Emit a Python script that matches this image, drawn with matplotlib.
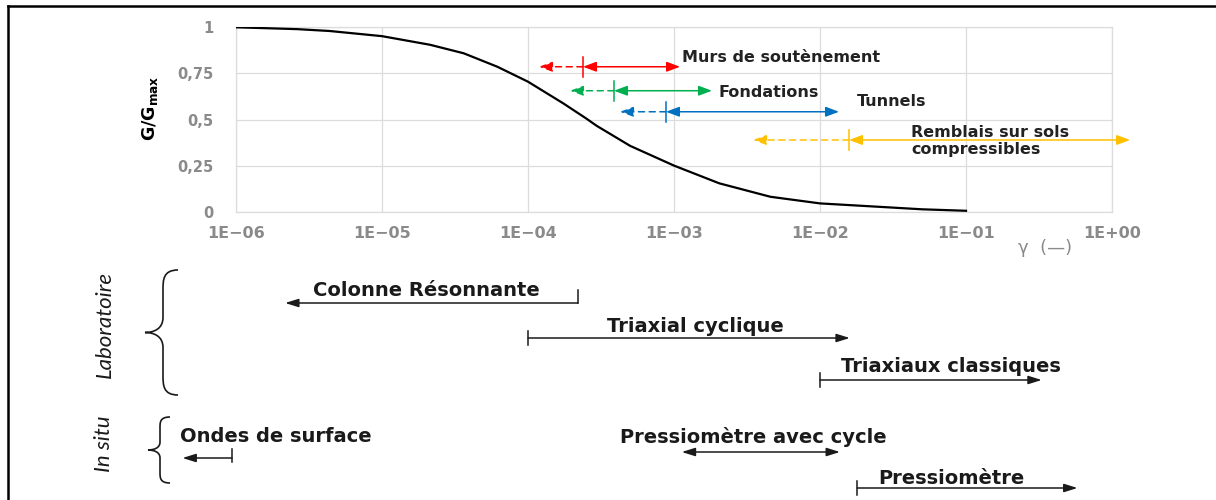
"""G/Gmax reduction curve with the strain ranges of works and of tests."""

import matplotlib
matplotlib.use('Agg')
from matplotlib import pyplot, transforms
from matplotlib.lines import Line2D
from matplotlib.patches import PathPatch
from matplotlib.path import Path


# Reduction curve.
gamma = [1e-6, 2.63e-6, 4.37e-6, 1e-5, 2.14e-5, 3.63e-5, 6.17e-5, 1e-4,
         1.74e-4, 2.51e-4, 2.95e-4, 5.01e-4, 1e-3, 2.04e-3, 4.57e-3, 1e-2,
         2.88e-2, 5e-2, 1e-1]
g_ratio = [1.0, 0.99, 0.98, 0.952, 0.905, 0.859, 0.786, 0.705,
           0.588, 0.505, 0.466, 0.357, 0.25, 0.154, 0.081, 0.045,
           0.024, 0.013, 0.005]

# Strain ranges of the works (dashed part from low to mid).
works = ['Murs de soutènement', 'Fondations', 'Tunnels',
         'Remblais sur sols\ncompressibles']
work_low = [1.19e-4, 1.94e-4, 4.27e-4, 3.48e-3]
work_mid = [2.38e-4, 3.88e-4, 8.81e-4, 1.58e-2]
work_high = [1.10e-3, 1.82e-3, 1.35e-2, 1.33]
work_level = [0.786, 0.656, 0.542, 0.389]
work_label_x = [1.135e-3, 2.03e-3, 1.79e-2, 4.2e-2]
work_label_y = [0.834, 0.645, 0.597, 0.383]
work_colors = ['#ff0000', '#00b050', '#0070c0', '#ffc000']

# Strain ranges of the tests.
tests = ['Colonne Résonnante', 'Triaxial cyclique', 'Triaxiaux classiques',
         'Ondes de surface', 'Pressiomètre avec cycle', 'Pressiomètre']
test_low = [2.17e-6, 1e-4, 1e-2, 4.3e-7, 1.13e-3, 1.8e-2]
test_high = [2.2e-4, 1.6e-2, 0.33, 9.4e-7, 1.37e-2, 0.58]
test_kind = ['left', 'right', 'right', 'left', 'both', 'right']
test_label_x = [3.37e-6, 3.48e-4, 1.39e-2, 4.13e-7, 4.27e-4, 2.49e-2]

xtick_values = [1e-6, 1e-5, 1e-4, 1e-3, 1e-2, 1e-1, 1e0]
xtick_labels = ['1E\u221206', '1E\u221205', '1E\u221204', '1E\u221203',
                '1E\u221202', '1E\u221201', '1E+00']
ytick_values = [0, 0.25, 0.5, 0.75, 1]
ytick_labels = ['0', '0,25', '0,5', '0,75', '1']

# Vertical positions (pixels from the top) of the test rows.
row_y = [303, 338, 380, 458, 452, 488]
row_label_y = [290, 326, 367, 437, 437, 478]

W, H = 1216, 500


def fx(x):
    return x / W


def fy(y):
    return 1 - y / H


pyplot.rc('font', family='DejaVu Sans')
fig = pyplot.figure(figsize=(W / 100, H / 100), dpi=100)
ax = fig.add_axes([fx(236), fy(211.7), fx(1112) - fx(236), fy(27.3) - fy(211.7)])

ax.plot(gamma, g_ratio, color='black', lw=1.6, zorder=3)
ax.set_xscale('log')
ax.set_xlim(1e-6, 1)
ax.set_ylim(0, 1)
ax.set_xticks(xtick_values, xtick_labels)
ax.set_yticks(ytick_values, ytick_labels)
ax.minorticks_off()
ax.tick_params(length=0, colors='#8a8a8a', labelsize=10.5)
ax.tick_params(axis='x', pad=10, labelsize=11.5)
ax.tick_params(axis='y', pad=16)
for lab in ax.get_xticklabels() + ax.get_yticklabels():
    lab.set_fontweight('bold')
ax.grid(color='#dcdcdc', lw=0.9)
for sp in ax.spines.values():
    sp.set_color('#dcdcdc')
    sp.set_linewidth(0.9)

fig.text(fx(150), fy(108), r'G/G$_{\mathregular{max}}$', rotation=90,
         ha='center', va='center', fontsize=12.5, fontweight='bold')
fig.text(fx(1045), fy(248), '\u03b3  (\u2014)', ha='center', va='center',
         fontsize=13, color='#8a8a8a')

# Works: dashed extension, split mark, solid range.
for name, lo, mid, hi, lev, lx, ly, c in zip(
        works, work_low, work_mid, work_high, work_level,
        work_label_x, work_label_y, work_colors):
    head = '-|>,head_length=0.8,head_width=0.3'
    ax.annotate('', xy=(lo, lev), xytext=(mid, lev),
                arrowprops=dict(arrowstyle=head, color=c, lw=1.1,
                                linestyle=(0, (4, 3)), shrinkA=0, shrinkB=0,
                                mutation_scale=10))
    ax.annotate('', xy=(hi, lev), xytext=(mid, lev), annotation_clip=False,
                arrowprops=dict(arrowstyle='<|-|>,head_length=0.8,head_width=0.3',
                                color=c, lw=1.1, shrinkA=0, shrinkB=0,
                                mutation_scale=10))
    ax.plot([mid, mid], [lev - 0.055, lev + 0.055], color=c, lw=1.1)
    ax.text(lx, ly, name, ha='left', va='center', fontsize=11.5,
            fontweight='bold', color='#222222', linespacing=1.1)

# Tests, drawn on the same strain scale below the axes.
trans = transforms.blended_transform_factory(ax.transData, fig.transFigure)
for name, lo, hi, kind, yr, yl, lx in zip(tests, test_low, test_high,
                                          test_kind, row_y, row_label_y,
                                          test_label_x):
    y = fy(yr)
    if kind == 'left':
        style, start, end = '-|>', (hi, y), (lo, y)
    elif kind == 'right':
        style, start, end = '-|>', (lo, y), (hi, y)
    else:
        style, start, end = '<|-|>', (lo, y), (hi, y)
    ax.annotate('', xy=end, xycoords=trans, xytext=start, textcoords=trans,
                annotation_clip=False,
                arrowprops=dict(arrowstyle=style + ',head_length=0.8,head_width=0.25',
                                color='#1a1a1a', lw=1.1, shrinkA=0, shrinkB=0,
                                mutation_scale=10))
    if name == 'Colonne Résonnante':
        ax.plot([hi, hi], [fy(yr), fy(yr - 13)], transform=trans,
                color='#1a1a1a', lw=1.1, clip_on=False)
    elif name == 'Ondes de surface':
        ax.plot([hi, hi], [fy(yr + 4), fy(yr - 9)], transform=trans,
                color='#1a1a1a', lw=1.1, clip_on=False)
    elif kind == 'right':
        ax.plot([lo, lo], [fy(yr + 7), fy(yr - 7)], transform=trans,
                color='#1a1a1a', lw=1.1, clip_on=False)
    ax.text(lx, fy(yl), name, transform=trans, ha='left', va='center',
            fontsize=14, fontweight='bold', color='#1a1a1a', clip_on=False)


def brace(x_tip, x_mid, x_end, y_top, y_bot):
    yc = (y_top + y_bot) / 2
    h = y_bot - y_top
    pts = [(x_end, y_top),
           (x_mid, y_top), (x_mid, y_top + 0.08 * h), (x_mid, y_top + 0.16 * h),
           (x_mid, yc - 0.12 * h),
           (x_mid, yc - 0.03 * h), ((x_tip + x_mid) / 2, yc), (x_tip, yc),
           ((x_tip + x_mid) / 2, yc), (x_mid, yc + 0.03 * h), (x_mid, yc + 0.12 * h),
           (x_mid, y_bot - 0.16 * h),
           (x_mid, y_bot - 0.08 * h), (x_mid, y_bot), (x_end, y_bot)]
    codes = ([Path.MOVETO] + [Path.CURVE4] * 3 + [Path.LINETO] + [Path.CURVE4] * 6
             + [Path.LINETO] + [Path.CURVE4] * 3)
    verts = [(fx(x), fy(y)) for x, y in pts]
    fig.add_artist(PathPatch(Path(verts, codes), transform=fig.transFigure,
                             fill=False, lw=1.2, color='#1a1a1a'))


brace(145, 163, 178, 270, 395)
brace(148, 160, 170, 417, 483)

fig.text(fx(105), fy(325), 'Laboratoire', rotation=90, ha='center',
         va='center', fontsize=16, family='Lato', style='italic',
         color='#1a1a1a')
fig.text(fx(104), fy(444), 'In situ', rotation=90, ha='center',
         va='center', fontsize=16, family='Lato', style='italic',
         color='#1a1a1a')

# Picture frame (left and top edges).
fig.add_artist(Line2D([fx(8), fx(8)], [fy(6), 0], color='black', lw=1.8))
fig.add_artist(Line2D([fx(8), 1], [fy(6), fy(6)], color='black', lw=1.8))

fig.savefig('out.png', dpi=100)
